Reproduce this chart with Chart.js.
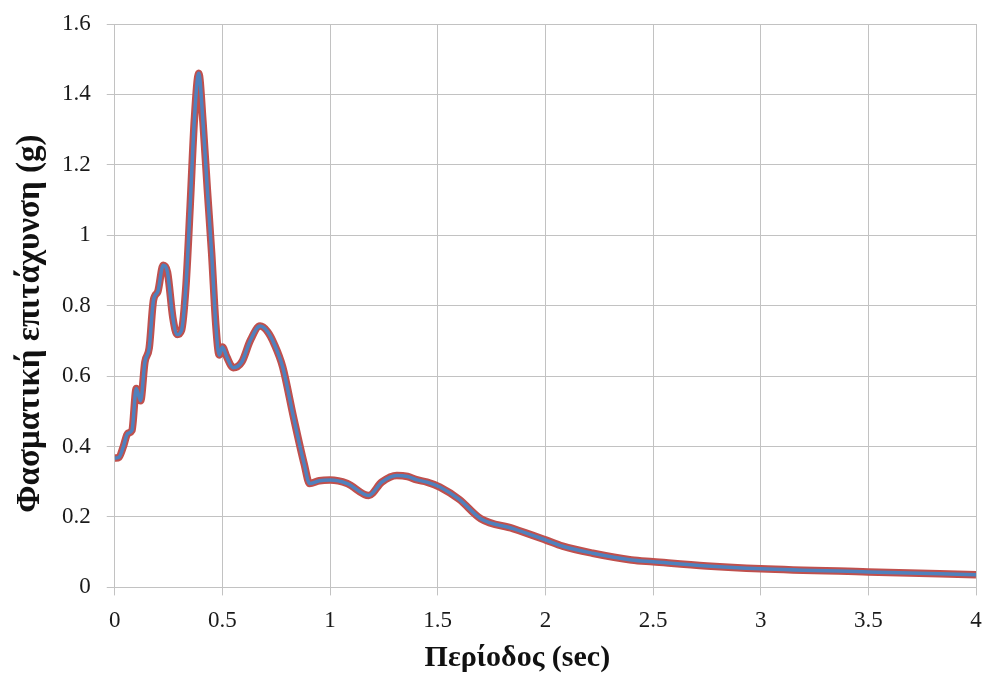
<!DOCTYPE html>
<html>
<head>
<meta charset="utf-8">
<script src="https://cdn.jsdelivr.net/npm/chart.js@4/dist/chart.umd.min.js"></script>
<style>
  html, body { margin: 0; padding: 0; background: #ffffff; }
  #wrap { width: 985px; height: 677px; }
</style>
</head>
<body>
<div id="wrap"><canvas id="spectrum" width="985" height="677"></canvas></div>
<script>
// Spectral acceleration (g) against period (sec)
const periods = [0, 0.02, 0.04, 0.06, 0.08, 0.1, 0.12, 0.14, 0.16, 0.18, 0.2, 0.225, 0.245, 0.27, 0.29, 0.31, 0.33, 0.35, 0.37, 0.39, 0.41, 0.43, 0.45, 0.47, 0.485, 0.5, 0.52, 0.55, 0.59, 0.63, 0.675, 0.71, 0.74, 0.78, 0.83, 0.88, 0.905, 0.95, 1.0, 1.08, 1.18, 1.24, 1.31, 1.36, 1.4, 1.45, 1.51, 1.6, 1.7, 1.85, 2.0, 2.08, 2.22, 2.4, 2.5, 2.75, 3.0, 3.5, 4.0];
const accelTarget = [0.367, 0.370, 0.400, 0.437, 0.446, 0.565, 0.530, 0.640, 0.680, 0.816, 0.840, 0.915, 0.895, 0.765, 0.718, 0.730, 0.850, 1.080, 1.330, 1.460, 1.320, 1.130, 0.950, 0.740, 0.660, 0.683, 0.655, 0.624, 0.640, 0.702, 0.742, 0.726, 0.692, 0.626, 0.484, 0.350, 0.295, 0.303, 0.305, 0.295, 0.261, 0.299, 0.318, 0.315, 0.306, 0.299, 0.285, 0.250, 0.195, 0.167, 0.135, 0.117, 0.097, 0.078, 0.073, 0.061, 0.053, 0.044, 0.036];
const accelMatched = accelTarget.slice();

const xTicks = { min: 0, max: 4, step: 0.5 };
const yTicks = { min: 0, max: 1.6, step: 0.2 };
const xTitle = 'Περίοδος (sec)';
const yTitle = 'Φασματική επιτάχυνση (g)';

const toPoints = (xs, ys) => xs.map((x, i) => ({ x: x, y: ys[i] }));
const plainNumber = (v) => String(Number(Number(v).toFixed(2)));

const serif = '"Liberation Serif", "DejaVu Serif", serif';
const gridColor = '#c2c2c2';
const textColor = '#1a1a1a';

// Axis titles, placed a little off-centre towards the lower left like the original layout
const axisTitles = {
  id: 'axisTitles',
  afterDraw(chart) {
    const { ctx, chartArea } = chart;
    ctx.save();
    ctx.fillStyle = '#111111';
    ctx.textAlign = 'center';
    ctx.textBaseline = 'middle';

    ctx.font = 'bold 30px ' + serif;
    ctx.fillText(xTitle, (chartArea.left + chartArea.right) / 2 - 28, chartArea.bottom + 71);

    ctx.translate(chartArea.left - 84, (chartArea.top + chartArea.bottom) / 2 + 18);
    ctx.rotate(-Math.PI / 2);
    ctx.font = 'bold 33px ' + serif;
    ctx.fillText(yTitle, 0, 0);
    ctx.restore();
  }
};

new Chart(document.getElementById('spectrum'), {
  type: 'line',
  data: {
    datasets: [
      {
        data: toPoints(periods, accelMatched),
        borderColor: '#4f81bd',
        borderWidth: 3.5,
        pointRadius: 0,
        cubicInterpolationMode: 'monotone',
        fill: false,
        order: 0
      },
      {
        data: toPoints(periods, accelTarget),
        borderColor: '#c0504d',
        borderWidth: 7.5,
        pointRadius: 0,
        cubicInterpolationMode: 'monotone',
        fill: false,
        order: 1
      }
    ]
  },
  plugins: [axisTitles],
  options: {
    responsive: false,
    animation: false,
    devicePixelRatio: 1,
    layout: { padding: { top: 0, right: 0, bottom: 30, left: 46 } },
    plugins: {
      legend: { display: false },
      tooltip: { enabled: false }
    },
    scales: {
      x: {
        type: 'linear',
        min: xTicks.min,
        max: xTicks.max,
        afterFit(scale) { scale.paddingRight = 9; },
        border: { color: gridColor },
        grid: { color: gridColor, lineWidth: 1, tickLength: 8 },
        ticks: {
          stepSize: xTicks.step,
          color: textColor,
          padding: 12,
          maxRotation: 0,
          callback: plainNumber,
          font: { family: serif, size: 23 }
        }
      },
      y: {
        min: yTicks.min,
        max: yTicks.max,
        afterFit(scale) { scale.paddingTop = 24; },
        border: { color: gridColor },
        grid: { color: gridColor, lineWidth: 1, tickLength: 8 },
        ticks: {
          stepSize: yTicks.step,
          color: textColor,
          padding: 16,
          callback: plainNumber,
          font: { family: serif, size: 23 }
        }
      }
    }
  }
});
</script>
</body>
</html>
